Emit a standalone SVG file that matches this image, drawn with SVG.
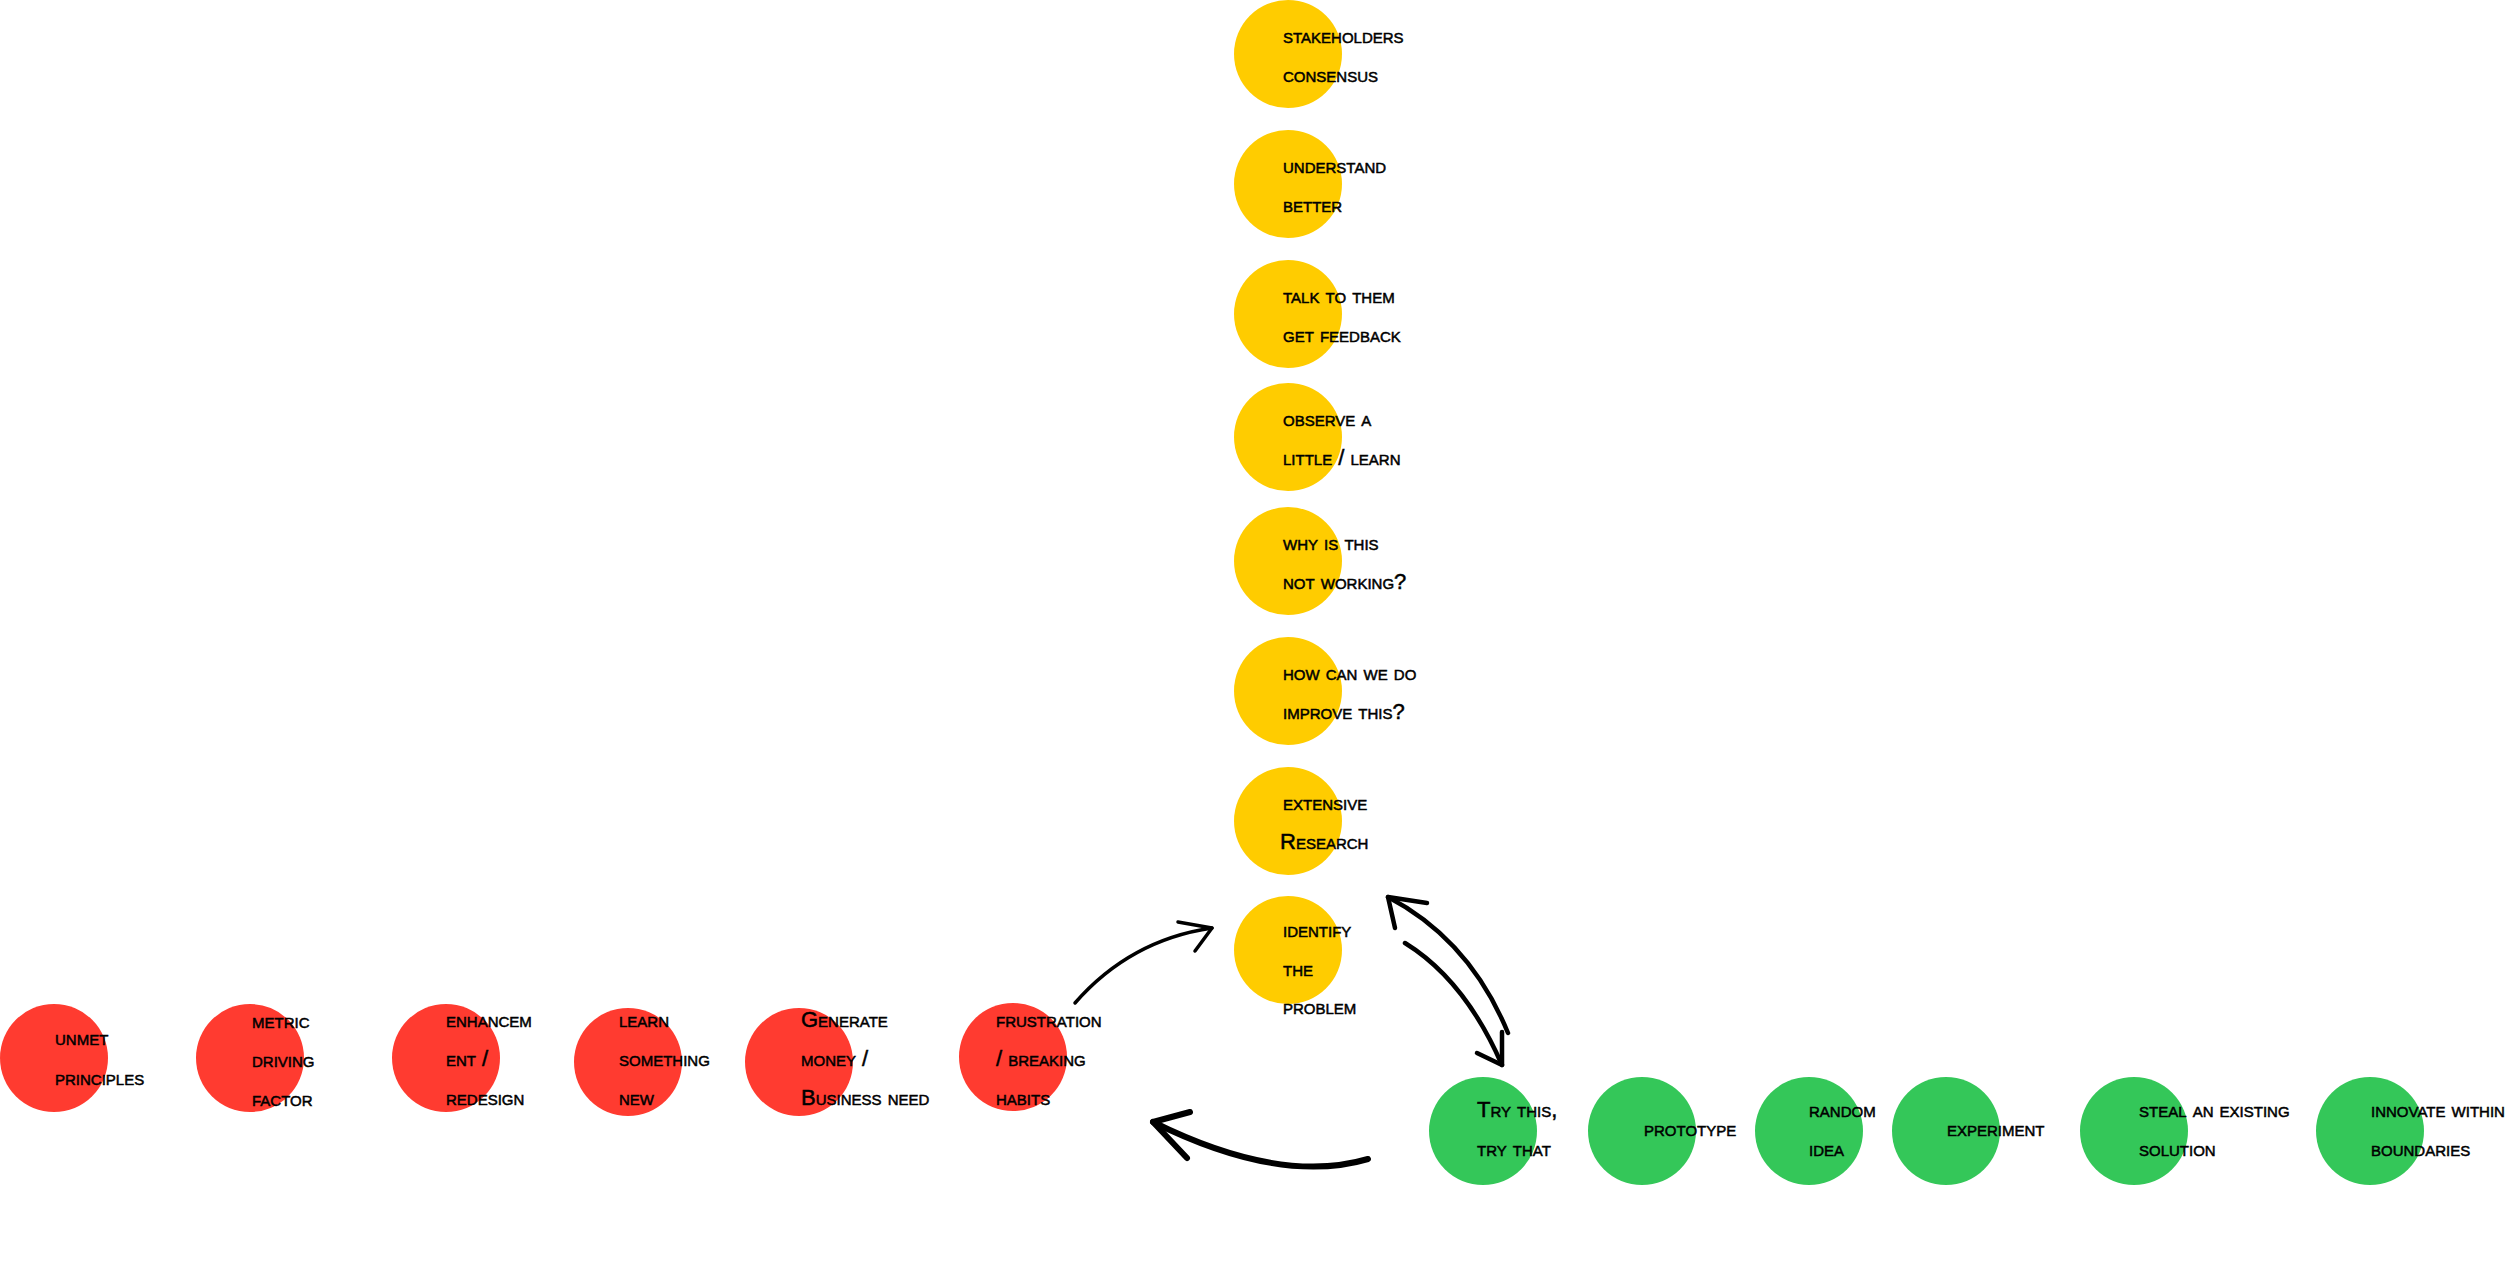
<svg xmlns="http://www.w3.org/2000/svg" width="2513" height="1282" viewBox="0 0 2513 1282">
<style>
.y{fill:#FFCC00}.r{fill:#FF3B30}.g{fill:#34C759}
text{font-family:"Liberation Sans",Arial,sans-serif;font-size:22px;font-variant:small-caps;fill:#000;stroke:#000;stroke-width:0.5}
.c path{fill:none;stroke:#000;stroke-linecap:round;stroke-linejoin:round}
</style>
<rect width="2513" height="1282" fill="#fff"/>
<g id="y1"><circle class="y" cx="1288" cy="54" r="54"/><text x="1283" y="43">stakeholders</text><text x="1283" y="82">consensus</text></g>
<g id="y2"><circle class="y" cx="1288" cy="184" r="54"/><text x="1283" y="173">understand</text><text x="1283" y="212">better</text></g>
<g id="y3"><circle class="y" cx="1288" cy="314" r="54"/><text x="1283" y="303">talk to them</text><text x="1283" y="342">get feedback</text></g>
<g id="y4"><circle class="y" cx="1288" cy="437" r="54"/><text x="1283" y="426">observe a</text><text x="1283" y="465">little / learn</text></g>
<g id="y5"><circle class="y" cx="1288" cy="561" r="54"/><text x="1283" y="550">why is this</text><text x="1283" y="589">not working?</text></g>
<g id="y6"><circle class="y" cx="1288" cy="691" r="54"/><text x="1283" y="680">how can we do</text><text x="1283" y="719">improve this?</text></g>
<g id="y7"><circle class="y" cx="1288" cy="821" r="54"/><text x="1283" y="810">extensive</text><text x="1280" y="849">Research</text></g>
<g id="y8"><circle class="y" cx="1288" cy="950" r="54"/><text x="1283" y="937">identify</text><text x="1283" y="976">the</text><text x="1283" y="1014">problem</text></g>
<g id="r1"><circle class="r" cx="54" cy="1058" r="54"/><text x="55" y="1045">unmet</text><text x="55" y="1085">principles</text></g>
<g id="r2"><circle class="r" cx="250" cy="1058" r="54"/><text x="252" y="1028">metric</text><text x="252" y="1067">driving</text><text x="252" y="1106">factor</text></g>
<g id="r3"><circle class="r" cx="446" cy="1058" r="54"/><text x="446" y="1027">enhancem</text><text x="446" y="1066">ent /</text><text x="446" y="1105">redesign</text></g>
<g id="r4"><circle class="r" cx="628" cy="1062" r="54"/><text x="619" y="1027">learn</text><text x="619" y="1066">something</text><text x="619" y="1105">new</text></g>
<g id="r5"><circle class="r" cx="799" cy="1062" r="54"/><text x="801" y="1027">Generate</text><text x="801" y="1066">money /</text><text x="801" y="1105">Business need</text></g>
<g id="r6"><circle class="r" cx="1013" cy="1057" r="54"/><text x="996" y="1027">frustration</text><text x="996" y="1066">/ breaking</text><text x="996" y="1105">habits</text></g>
<g id="g1"><circle class="g" cx="1483" cy="1131" r="54"/><text x="1477" y="1117">Try this,</text><text x="1477" y="1156">try that</text></g>
<g id="g2"><circle class="g" cx="1642" cy="1131" r="54"/><text x="1644" y="1136">prototype</text></g>
<g id="g3"><circle class="g" cx="1809" cy="1131" r="54"/><text x="1809" y="1117">random</text><text x="1809" y="1156">idea</text></g>
<g id="g4"><circle class="g" cx="1946" cy="1131" r="54"/><text x="1947" y="1136">experiment</text></g>
<g id="g5"><circle class="g" cx="2134" cy="1131" r="54"/><text x="2139" y="1117">steal an existing</text><text x="2139" y="1156">solution</text></g>
<g id="g6"><circle class="g" cx="2370" cy="1131" r="54"/><text x="2371" y="1117">innovate within</text><text x="2371" y="1156">boundaries</text></g>
<g id="connectors" class="c">
<g id="a1" stroke-width="3.5"><path d="M1075,1003 Q1130,940 1212,928"/><path d="M1178,922 L1212,928 L1195,951"/></g>
<g id="a2" stroke-width="4.5"><path d="M1508,1033 Q1470,940 1388,897"/><path d="M1427,903 L1388,897 L1395,928"/></g>
<g id="a3" stroke-width="4.5"><path d="M1405,943 Q1465,980 1502,1065"/><path d="M1477,1053 L1502,1065 L1502,1032"/></g>
<g id="a4" stroke-width="6"><path d="M1368,1159 Q1280,1185 1153,1122"/><path d="M1190,1112 L1153,1122 L1187,1158"/></g>
</g>
</svg>
